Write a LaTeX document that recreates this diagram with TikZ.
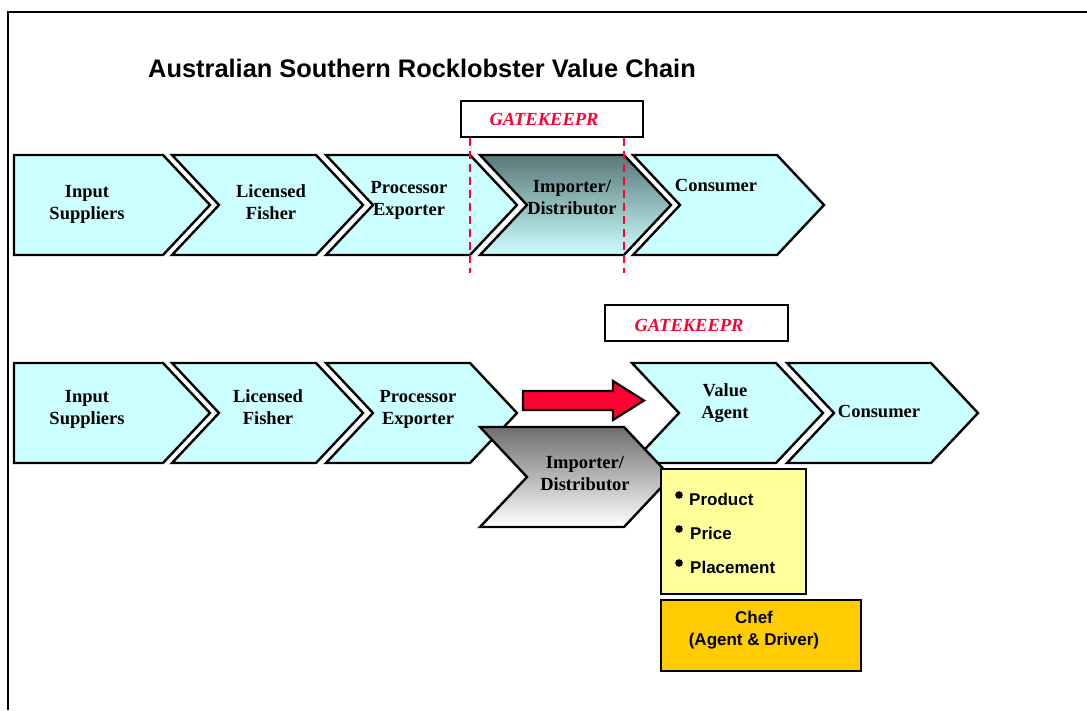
\documentclass[tikz,border=0pt]{standalone}
\usepackage{fontspec}
\setmainfont{Liberation Serif}
\setsansfont{Liberation Sans}

\definecolor{chevcyan}{HTML}{CCFFFF}
\definecolor{gkred}{HTML}{FF0033}
\definecolor{notepad}{HTML}{FFFF99}
\definecolor{chefgold}{HTML}{FFCC00}
\definecolor{slatetop}{HTML}{5A7878}
\definecolor{greytop}{HTML}{6E6E6E}

% chevron outlines: top-left corner given, 144 wide body, 47 deep point, 100 high
\newcommand\chevshape[2]{(#1,#2) -- ++(144,0) -- ++(47,50) -- ++(-47,50) -- ++(-144,0) -- ++(47,-50) -- cycle}
\newcommand\headshape[2]{(#1,#2) -- ++(149,0) -- ++(47,50) -- ++(-47,50) -- ++(-149,0) -- cycle}

\tikzset{
  chev/.style={draw=black, line width=2.4pt, fill=chevcyan, line join=miter},
  lbl/.style={font=\fontsize{18.5}{22}\selectfont\bfseries, align=center, inner sep=0pt, anchor=base},
  gkbox/.style={draw=black, line width=2.2pt, fill=white},
  gktext/.style={font=\fontsize{18.5}{22}\selectfont\bfseries\itshape, text=gkred, inner sep=0pt, anchor=base},
  gkline/.style={draw=gkred, line width=2.6pt, dash pattern=on 8pt off 5pt},
  itemtext/.style={font=\sffamily\bfseries\fontsize{17}{20}\selectfont, anchor=base west, inner sep=0pt},
  cheftext/.style={font=\sffamily\bfseries\fontsize{17}{22}\selectfont, align=center, anchor=base, inner sep=0pt},
  bigarrow/.style={draw=black, line width=2.2pt, fill=gkred, line join=miter},
}

\begin{document}
\begin{tikzpicture}[x=1pt, y=-1pt]
\useasboundingbox (0,0) rectangle (1087,710);

% page frame
\draw[line width=2.5pt] (8,710) -- (8,12) -- (1087,12);

% title
\node[font=\sffamily\bfseries\fontsize{25.4}{30}\selectfont, anchor=base west, inner sep=0pt]
  (title) at (148,77) {Australian Southern Rocklobster Value Chain};

% ---------------- upper chain ----------------
\draw[chev] \headshape{14}{155};
\draw[chev] \chevshape{172}{155};
\draw[chev] \chevshape{326}{155};
\draw[chev, top color=slatetop, bottom color=chevcyan] \chevshape{480}{155};
\draw[chev] \chevshape{633}{155};

\node[lbl] (u1) at (87,219)  {Input\\Suppliers};
\node[lbl] (u2) at (271,219) {Licensed\\Fisher};
\node[lbl] (u3) at (409,215) {Processor\\Exporter};
\node[lbl] (u4) at (572,214) {Importer/\\Distributor};
\node[lbl] (u5) at (716,191) {Consumer};

% gatekeeper over the importer
\draw[gkbox] (461,101) rectangle (643,137);
\node[gktext] (gk1) at (544,125) {GATEKEEPR};
\coordinate (gk1a) at (470,138);
\coordinate (gk1b) at (624,138);
\coordinate (gk1c) at (470,273);
\coordinate (gk1d) at (624,273);
\draw[gkline] (gk1a) -- (gk1c);
\draw[gkline] (gk1b) -- (gk1d);

% ---------------- lower chain ----------------
\draw[chev] \headshape{14}{363};
\draw[chev] \chevshape{172}{363};
\draw[chev] \chevshape{326}{363};
\draw[chev] \chevshape{632}{363};
\draw[chev] \chevshape{787}{363};

\node[lbl] (l1) at (87,424)  {Input\\Suppliers};
\node[lbl] (l2) at (268,424) {Licensed\\Fisher};
\node[lbl] (l3) at (418,424) {Processor\\Exporter};
\node[lbl] (l4) at (725,418) {Value\\Agent};
\node[lbl] (l5) at (879,417) {Consumer};

% importer pushed out of the chain
\draw[chev, top color=greytop, bottom color=white] \chevshape{480}{427};
\node[lbl] (l6) at (585,490) {Importer/\\Distributor};

% gatekeeper over the value agent
\draw[gkbox] (605,305) rectangle (788,341);
\node[gktext] (gk2) at (689,331) {GATEKEEPR};

% arrow from the processor towards the value agent
\coordinate (arrS) at (523,400.5);
\coordinate (arrT) at (644,400.5);
\draw[bigarrow] (arrS) ++(0,-9.5) -- (613,391) -- (613,381) -- (arrT) -- (613,420) -- (613,410) -- (523,410) -- cycle;

% value agent levers
\draw[line width=2.2pt, fill=notepad] (661,469) rectangle (806,594);
\fill (679,495) circle (3.8);
\fill (679,529) circle (3.8);
\fill (679,563) circle (3.8);
\node[itemtext] (p1) at (689,505) {Product};
\node[itemtext] (p2) at (690,539) {Price};
\node[itemtext] (p3) at (690,573) {Placement};

% chef
\draw[line width=2.2pt, fill=chefgold] (661,600) rectangle (861,671);
\node[cheftext] (chef) at (754,645) {Chef\\(Agent \& Driver)};
\end{tikzpicture}
\end{document}
